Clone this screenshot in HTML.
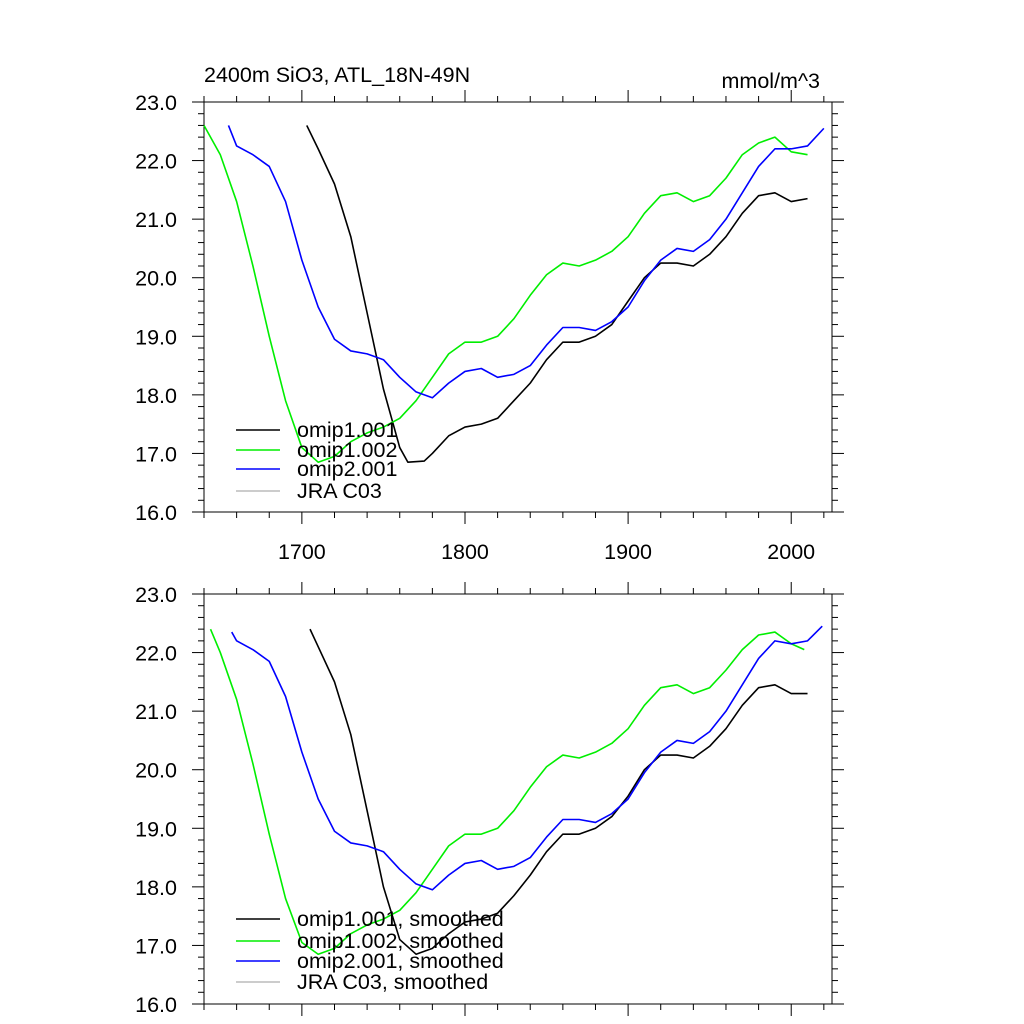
<!DOCTYPE html>
<html><head><meta charset="utf-8"><style>
body{margin:0;background:#fff}
svg{display:block;font-family:"Liberation Sans",sans-serif}
</style></head><body>
<svg id="chart" width="1024" height="1024" xmlns="http://www.w3.org/2000/svg">
<text x="204" y="82" font-size="21.5">2400m SiO3, ATL_18N-49N</text>
<text x="820" y="88" font-size="21.5" text-anchor="end">mmol/m^3</text>
</svg>
<script>
const xTicks=[1700,1800,1900,2000];
const yTicks=[16,17,18,19,20,21,22,23];
const blkYears=[1703,1710,1720,1730,1740,1750,1760,1765,1775,1780,1790,1800,1810,1820,1830,1840,1850,1860,1870,1880,1890,1900,1910,1920,1930,1940,1950,1960,1970,1980,1990,2000,2010];
const blkVals=[22.6,22.2,21.6,20.7,19.4,18.1,17.1,16.85,16.87,17.0,17.3,17.45,17.5,17.6,17.9,18.2,18.6,18.9,18.9,19.0,19.2,19.6,20.0,20.25,20.25,20.2,20.4,20.7,21.1,21.4,21.45,21.3,21.35];
const grnYears=[1640,1650,1660,1670,1680,1690,1700,1710,1720,1730,1740,1750,1760,1770,1780,1790,1800,1810,1820,1830,1840,1850,1860,1870,1880,1890,1900,1910,1920,1930,1940,1950,1960,1970,1980,1990,2000,2010];
const grnVals=[22.6,22.1,21.3,20.2,19.0,17.9,17.1,16.85,16.95,17.2,17.35,17.45,17.6,17.9,18.3,18.7,18.9,18.9,19.0,19.3,19.7,20.05,20.25,20.2,20.3,20.45,20.7,21.1,21.4,21.45,21.3,21.4,21.7,22.1,22.3,22.4,22.15,22.1];
const bluYears=[1655,1660,1670,1680,1690,1700,1710,1720,1730,1740,1750,1760,1770,1780,1790,1800,1810,1820,1830,1840,1850,1860,1870,1880,1890,1900,1910,1920,1930,1940,1950,1960,1970,1980,1990,2000,2010,2020];
const bluVals=[22.6,22.25,22.1,21.9,21.3,20.3,19.5,18.95,18.75,18.7,18.6,18.3,18.05,17.95,18.2,18.4,18.45,18.3,18.35,18.5,18.85,19.15,19.15,19.1,19.25,19.5,19.95,20.3,20.5,20.45,20.65,21.0,21.45,21.9,22.2,22.2,22.25,22.55];
const sBlkYears=[1705,1710,1720,1730,1740,1750,1760,1770,1780,1790,1800,1810,1820,1830,1840,1850,1860,1870,1880,1890,1900,1910,1920,1930,1940,1950,1960,1970,1980,1990,2000,2010];
const sBlkVals=[22.4,22.1,21.5,20.6,19.3,18.0,17.1,16.85,16.95,17.2,17.4,17.45,17.55,17.85,18.2,18.6,18.9,18.9,19.0,19.2,19.55,20.0,20.25,20.25,20.2,20.4,20.7,21.1,21.4,21.45,21.3,21.3];
const sGrnYears=[1644,1650,1660,1670,1680,1690,1700,1710,1720,1730,1740,1750,1760,1770,1780,1790,1800,1810,1820,1830,1840,1850,1860,1870,1880,1890,1900,1910,1920,1930,1940,1950,1960,1970,1980,1990,2000,2008];
const sGrnVals=[22.4,22.0,21.2,20.1,18.9,17.8,17.05,16.85,16.95,17.2,17.35,17.45,17.6,17.9,18.3,18.7,18.9,18.9,19.0,19.3,19.7,20.05,20.25,20.2,20.3,20.45,20.7,21.1,21.4,21.45,21.3,21.4,21.7,22.05,22.3,22.35,22.15,22.05];
const sBluYears=[1657,1660,1670,1680,1690,1700,1710,1720,1730,1740,1750,1760,1770,1780,1790,1800,1810,1820,1830,1840,1850,1860,1870,1880,1890,1900,1910,1920,1930,1940,1950,1960,1970,1980,1990,2000,2010,2019];
const sBluVals=[22.35,22.2,22.05,21.85,21.25,20.3,19.5,18.95,18.75,18.7,18.6,18.3,18.05,17.95,18.2,18.4,18.45,18.3,18.35,18.5,18.85,19.15,19.15,19.1,19.25,19.5,19.95,20.3,20.5,20.45,20.65,21.0,21.45,21.9,22.2,22.15,22.2,22.45];

const NS="http://www.w3.org/2000/svg";
const svg=document.getElementById('chart');
const X0=204,X1=832,XMIN=1640,XMAX=2025;
const sx=v=>X0+(v-XMIN)/(XMAX-XMIN)*(X1-X0);
function mk(t,a){const e=document.createElementNS(NS,t);for(const k in a)e.setAttribute(k,a[k]);svg.appendChild(e);return e;}
function panel(top,series,labels,legY,showX,pi){
  const bot=top+410,sy=v=>bot-(v-16)/7*410;
  const f=mk('rect',{x:X0,y:top,width:X1-X0,height:410,fill:'none',stroke:'#000','stroke-width':1});
  
  
  for(let y=1640;y<=2020;y+=20){const M=y%100===0,L=M?12:6,x=sx(y);
    mk('line',{x1:x,x2:x,y1:bot,y2:bot+L,stroke:'#000'});mk('line',{x1:x,x2:x,y1:top,y2:top-L,stroke:'#000'});}
  for(let v=16;v<=23.001;v+=0.2){const M=Math.abs(v-Math.round(v))<0.01,L=M?12:6,y=sy(v);
    mk('line',{x1:X0,x2:X0-L,y1:y,y2:y,stroke:'#000'});mk('line',{x1:X1,x2:X1+L,y1:y,y2:y,stroke:'#000'});}
  yTicks.forEach(v=>{const t=mk('text',{x:177,y:sy(v)+8,'font-size':21.5,'text-anchor':'end'});t.textContent=v.toFixed(1);
    
    });
  if(showX)xTicks.forEach(v=>{const t=mk('text',{x:sx(v),y:bot+47,'font-size':21.5,'text-anchor':'middle'});t.textContent=v;
    
    });
  const cols=['#000','#00ee00','#0000ff'];
  series.forEach((s,i)=>{const p=mk('polyline',{points:s[0].map((yr,j)=>sx(yr)+','+sy(s[1][j])).join(' '),fill:'none',stroke:cols[i],'stroke-width':1.6,'stroke-linejoin':'round'});
    
    });
  const lc=['#000','#00ee00','#0000ff','#bbb'];
  labels.forEach((lb,i)=>{const y=legY[i];
    const l=mk('line',{x1:236,x2:280,y1:y,y2:y,stroke:lc[i],'stroke-width':1.6});
    
    
    const t=mk('text',{x:297,y:y+7,'font-size':21.5});t.textContent=lb;
    
    });
}
panel(102,[[blkYears,blkVals],[grnYears,grnVals],[bluYears,bluVals]],['omip1.001','omip1.002','omip2.001','JRA C03'],[430,450,469,491],true,'top');
panel(594,[[sBlkYears,sBlkVals],[sGrnYears,sGrnVals],[sBluYears,sBluVals]],['omip1.001, smoothed','omip1.002, smoothed','omip2.001, smoothed','JRA C03, smoothed'],[919,941,961,982],false,'bottom');
</script>
</body></html>
